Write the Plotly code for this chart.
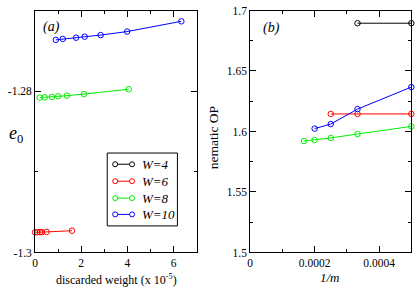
import plotly.graph_objects as go

W_labels = ["W=4", "W=6", "W=8", "W=10"]
colors = ["#000000", "#ff0000", "#00ee00", "#0000ff"]

# Panel (a): energy vs discarded weight (x 1e-5)
a_x = {
    "W=4": [],
    "W=6": [0.0, 0.1, 0.215, 0.3, 0.5, 1.6],
    "W=8": [0.2, 0.42, 0.73, 1.0, 1.38, 2.12, 4.06],
    "W=10": [0.9, 1.2, 1.78, 2.15, 2.84, 3.99, 6.34],
}
a_y = {
    "W=4": [],
    "W=6": [-1.2975, -1.2975, -1.29748, -1.29748, -1.29745, -1.2973],
    "W=8": [-1.2808, -1.28076, -1.28072, -1.28064, -1.28056, -1.28036, -1.27976],
    "W=10": [-1.27364, -1.27352, -1.27337, -1.27325, -1.27305, -1.27261, -1.27134],
}

# Panel (b): nematic OP vs 1/m
b_x = {
    "W=4": [0.000333, 0.0005],
    "W=6": [0.00025, 0.000333, 0.0005],
    "W=8": [0.000167, 0.0002, 0.00025, 0.000333, 0.0005],
    "W=10": [0.0002, 0.00025, 0.000333, 0.0005],
}
b_y = {
    "W=4": [1.6895, 1.6895],
    "W=6": [1.6145, 1.6145, 1.6145],
    "W=8": [1.5921, 1.5929, 1.5947, 1.5979, 1.6042],
    "W=10": [1.6024, 1.6061, 1.6185, 1.6367],
}

a_xticks = [0, 2, 4, 6]
a_xticktext = ["0", "2", "4", "6"]
a_yticks = [-1.3, -1.28]
a_yticktext = ["-1.3", "-1.28"]
b_xticks = [0, 0.0002, 0.0004]
b_xticktext = ["0", "0.0002", "0.0004"]
b_yticks = [1.5, 1.55, 1.6, 1.65, 1.7]
b_yticktext = ["1.5", "1.55", "1.6", "1.65", "1.7"]

FONT = "Liberation Serif"
W, H = 415, 293

fig = go.Figure()
for lab, col in zip(W_labels, colors):
    fig.add_trace(go.Scatter(
        x=a_x[lab], y=a_y[lab], mode="lines+markers", xaxis="x", yaxis="y",
        line=dict(color=col, width=1),
        marker=dict(symbol="circle-open", size=5.5, color=col, line=dict(width=1, color=col)),
        cliponaxis=False, showlegend=False))
    fig.add_trace(go.Scatter(
        x=b_x[lab], y=b_y[lab], mode="lines+markers", xaxis="x2", yaxis="y2",
        line=dict(color=col, width=1),
        marker=dict(symbol="circle-open", size=5.5, color=col, line=dict(width=1, color=col)),
        cliponaxis=False, showlegend=False))

def px(x):
    return x / W

def py(y):
    return 1 - y / H

axis_common = dict(
    showline=True, linecolor="black", linewidth=1, mirror="ticks",
    ticks="inside", ticklen=6, tickcolor="black", tickwidth=1,
    showgrid=False, zeroline=False, ticklabeloverflow="allow",
    tickfont=dict(family=FONT, size=11.5, color="black"),
)

fig.update_layout(
    width=W, height=H,
    margin=dict(l=0, r=0, t=0, b=0),
    paper_bgcolor="white", plot_bgcolor="white",
    font=dict(family=FONT, size=12, color="black"),
    xaxis=dict(domain=[px(32.3), px(195)], range=[0, 7],
               tickmode="array", tickvals=a_xticks, ticktext=a_xticktext,
               minor=dict(dtick=1, tick0=0, ticks="inside", ticklen=3, tickcolor="black"),
               anchor="y", **axis_common),
    yaxis=dict(domain=[py(257), py(4.7)], range=[-1.3, -1.27],
               tickmode="array", tickvals=a_yticks, ticktext=a_yticktext,
               minor=dict(dtick=0.01, tick0=-1.3, ticks="inside", ticklen=3, tickcolor="black"),
               anchor="x", **axis_common),
    xaxis2=dict(domain=[px(249), px(411.3)], range=[0, 0.0005],
                tickmode="array", tickvals=b_xticks, ticktext=b_xticktext,
                minor=dict(dtick=0.0001, tick0=0, ticks="inside", ticklen=3, tickcolor="black"),
                anchor="y2", **axis_common),
    yaxis2=dict(domain=[py(257), py(4.7)], range=[1.5, 1.7],
                tickmode="array", tickvals=b_yticks, ticktext=b_yticktext,
                minor=dict(dtick=0.025, tick0=1.5, ticks="inside", ticklen=3, tickcolor="black"),
                anchor="x2", **axis_common),
)

def note(text, x, y, size, xanchor="center", angle=0):
    return dict(text=text, x=px(x), y=py(y), xref="paper", yref="paper",
                xanchor=xanchor, yanchor="middle", textangle=angle,
                showarrow=False, font=dict(family=FONT, size=size, color="black"))

ann = [
    note("<i>(a)</i>", 49, 21.5, 14),
    note("<i>(b)</i>", 270, 23, 14),
    note("<i>e</i><sub>0</sub>", 13, 134, 18),
    note("discarded weight (x 10<sup>-5</sup>)", 114, 285.5, 12),
    note("<i>1/m</i>", 329, 283.5, 13),
    note("nematic OP", 212, 137.5, 13.5, angle=-90),
]

shapes = [dict(type="rect", xref="paper", yref="paper",
               x0=px(105), x1=px(175.7), y0=py(229.3), y1=py(153.3),
               line=dict(color="black", width=1), fillcolor="white", layer="above")]
ys = [165, 182.7, 200.3, 217.3]
for lab, col, yy in zip(W_labels, colors, ys):
    shapes.append(dict(type="line", xref="paper", yref="paper",
                       x0=px(113), x1=px(130), y0=py(yy), y1=py(yy),
                       line=dict(color=col, width=1), layer="above"))
    for xx in (113, 130):
        shapes.append(dict(type="circle", xref="paper", yref="paper",
                           xsizemode="pixel", ysizemode="pixel",
                           xanchor=px(xx), yanchor=py(yy),
                           x0=-2.5, x1=2.5, y0=-2.5, y1=2.5,
                           line=dict(color=col, width=1), fillcolor="white", layer="above"))
    ann.append(note("<i>%s</i>" % lab, 138, yy, 13, xanchor="left"))

fig.update_layout(annotations=ann, shapes=shapes)
fig.write_html("out.html", config={"displayModeBar": False},
               post_script="document.body.style.margin='0px';")
